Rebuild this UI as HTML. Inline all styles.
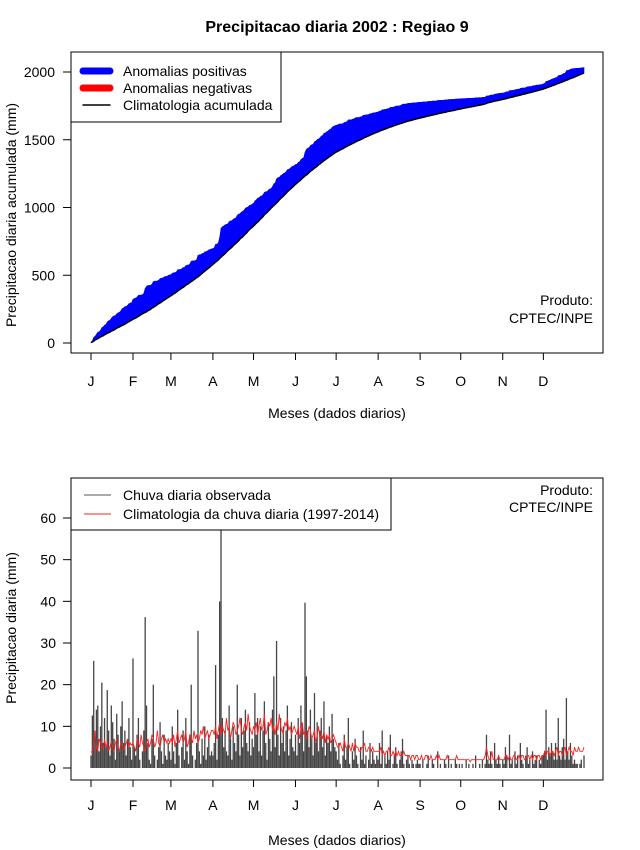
<!DOCTYPE html>
<html><head><meta charset="utf-8"><style>
html,body{margin:0;padding:0;background:#fff;}
svg{display:block;font-family:"Liberation Sans",Arial,sans-serif;}
</style></head><body>
<svg id="c" width="640" height="850" viewBox="0 0 640 850">
<rect width="640" height="850" fill="#fff"/>
<defs><clipPath id="cb"><rect x="71" y="478" width="532" height="302"/></clipPath></defs>
<text x="337" y="32" text-anchor="middle" font-size="16" font-weight="bold">Precipitacao diaria 2002 : Regiao 9</text>
</svg>
<script>
const months = ["J","F","M","A","M","J","J","A","S","O","N","D"];
const monthStartDays = [1,32,60,91,121,152,182,213,244,274,305,335];
const cumTicks = [0,500,1000,1500,2000];
const dailyTicks = [0,10,20,30,40,50,60];
const observedDaily = [
3,12.6,25.7,8,14,15,4,10,20.5,6,12,5,18.7,9,3,15,11,7,2,13,8,4,10,16,6,9,3,7,12,5,2,
26.3,5,3,8,12,2,0,4,9,36.2,15,6,2,1,7,20,3,0,2,5,11,4,1,8,3,2,6,4,
2,10,4,1,6,14,3,0,5,9,2,12,4,1,8,20,3,0,2,6,32.9,4,1,7,3,10,2,5,8,3,4,
3,6,24.7,2,8,40,68,12,5,9,4,3,15,7,2,10,6,4,20,8,3,12,5,9,14,6,4,11,3,7,
5,18,8,12,4,10,3,9,16,6,2,11,7,4,14,22,5,30.5,8,3,12,6,10,4,9,15,3,7,11,5,4,
8,3,12,6,15,10,4,39.7,22,9,5,14,7,3,18,6,11,4,9,12,5,16,3,8,6,10,4,13,7,5,
4,2,6,1,0,3,8,2,5,12,1,0,4,2,7,3,1,0,5,2,9,1,3,0,2,6,1,4,2,1,3,
2,6,1,9,0,3,1,4,2,8,0,1,3,5,1,0,2,4,7,1,0,2,3,1,0,2,1,0,1,2,1,
1,0,2,0,0,1,3,0,0,2,1,0,0,4,0,1,0,0,2,1,0,3,0,1,0,0,2,1,0,1,
0,1,0,0,2,0,1,0,0,1,0,3,0,0,1,0,2,0,1,8,2,1,4,1,0,6,2,1,3,1,0,
2,1,5,3,0,8,1,2,0,4,1,3,0,6,2,1,0,3,5,1,2,0,4,1,2,3,0,2,1,3,
3,4,14,2,5,3,6,4,2,6,2,12,3,2,5,7,2,16.8,4,2,6,3,1,2,1,1,0,1,2,0,3
];
const climDaily = [
4,3.5,6,9,5,4,7,6,5,4.5,7,5,6,4,5,6.5,5,4,6,7,5,4,6,5.5,4.5,5,6,7,5,6,5.5,
6,5,4,7,6,5,8,6,5,4,6,7,5,6,8,7,5,6,9,6,5,7,8,6,7,6,7,6,
7,6,8,5,7,9,6,7,8,6,7,9,5,6,8,7,6,9,7,8,6,7,9,8,10,7,8,9,7,8,9,
9,8,10,7,9,11,8,10,9,8,12,9,10,7,9,11,10,8,9,10,12,9,8,10,11,9,13,10,9,8,
10,9,11,8,10,12,9,10,13,8,9,11,10,12,9,10,8,11,9,13,10,9,8,11,10,12,9,10,8,9,10,
9,8,10,7,9,11,8,9,7,8,10,9,7,8,9,6,8,10,7,8,7,9,6,8,7,8,6,7,8,7,
6,5,5,6,5,4,7,5,5,6,5,4,6,4,6,5,5,4,4,5,5,6,4,4,5,5,4,5,4,4,4,
4,4,5,3,4,3,4,4,5,3,3,4,3,4,3,4,3,3,3,4,3,3,3,3,2,3,3,2,3,3,2,
2,3,2,2,3,3,2,2,3,2,2,2,3,2,3,2,2,2,2,2,3,2,2,2,2,2,2,3,2,2,
2,2,2,2,2,2,2,1.5,2,2,2,2,2,2,2,2,2,2,3,5,3,2,2,4,2,2,2,2,3,2,2,
2,2,3,3,2,3,2,2,3,3,2,2,3,2,3,3,2,2,3,3,2,3,2,3,3,2,3,3,2,3,
3,4,3,4,4,3,4,4,3,4,5,3,4,4,3,4,5,3,4,5,4,4,3,5,4,4,5,4,4,4,5
];

const NS="http://www.w3.org/2000/svg";
const svgEl=document.getElementById('c');
function mk(tag,attrs,parent){const e=document.createElementNS(NS,tag);for(const k in attrs)e.setAttribute(k,attrs[k]);(parent||svgEl).appendChild(e);return e;}
const xDay=d=>91+(d-1)*(493/364);
const yCum=v=>343-v*0.1355;
const yDay=v=>768-v*(250/60);
const FS='14';

const cumObs=[],cumClim=[];
let so=0,sc=0;
for(let i=0;i<observedDaily.length;i++){so+=observedDaily[i];sc+=climDaily[i];cumObs.push(so);cumClim.push(sc);}

// ---- TOP PANEL ----
const topPanel=mk('g',{});


for(let i=0;i<cumObs.length-1;i++){
  const d=i+1;
  const pts=[[xDay(d),yCum(cumObs[i])],[xDay(d+1),yCum(cumObs[i+1])],[xDay(d+1),yCum(cumClim[i+1])],[xDay(d),yCum(cumClim[i])]];
  const pos=(cumObs[i]+cumObs[i+1])>=(cumClim[i]+cumClim[i+1]);
  const p=mk('polygon',{points:pts.map(q=>q.join(',')).join(' '),fill:pos?'#0000ff':'#ff0000',stroke:pos?'#0000ff':'#ff0000','stroke-width':'0.6'},topPanel);
  
  
}
const climLine=mk('polyline',{points:cumClim.map((v,i)=>xDay(i+1)+','+yCum(v)).join(' '),fill:'none',stroke:'#000','stroke-width':'1.5'},topPanel);


const box1=mk('rect',{x:71,y:52,width:532,height:301,fill:'none',stroke:'#000','stroke-width':'1'});


cumTicks.forEach(t=>{
  const tk=mk('line',{x1:63,x2:71,y1:yCum(t),y2:yCum(t),stroke:'#000'});
  
  
  const tx=mk('text',{x:55,y:yCum(t)+5,'text-anchor':'end','font-size':FS});
  tx.textContent=t;
  
  
});
function xAxis(yb,yl){
  monthStartDays.forEach((d,i)=>{
    const tk=mk('line',{x1:xDay(d),x2:xDay(d),y1:yb,y2:yb+7,stroke:'#000'});
    
    
    const tx=mk('text',{x:xDay(d),y:yl,'text-anchor':'middle','font-size':FS});
    tx.textContent=months[i];
    
    
  });
}
xAxis(353,386);
let t1=mk('text',{x:337,y:418,'text-anchor':'middle','font-size':FS});t1.textContent='Meses (dados diarios)';


let t2=mk('text',{x:0,y:0,'text-anchor':'middle','font-size':FS,transform:'translate(16,215) rotate(-90)'});t2.textContent='Precipitacao diaria acumulada (mm)';


let p1=mk('text',{x:593,y:305,'text-anchor':'end','font-size':FS});p1.textContent='Produto:';


let p2=mk('text',{x:593,y:323,'text-anchor':'end','font-size':FS});p2.textContent='CPTEC/INPE';


const lg1=mk('g',{});


mk('rect',{x:71,y:52,width:210,height:70,fill:'#fff',stroke:'#000'},lg1);
[['Anomalias positivas','#0000ff',7,71],['Anomalias negativas','#ff0000',7,88],['Climatologia acumulada','#000',1.5,105]].forEach(e=>{
  const g=mk('g',{},lg1);
  
  
  mk('line',{x1:83,x2:110,y1:e[3],y2:e[3],stroke:e[1],'stroke-width':e[2],'stroke-linecap':'round'},g);
  const t=mk('text',{x:123,y:e[3]+5,'font-size':FS},g);t.textContent=e[0];
});

// ---- BOTTOM PANEL ----
const bot=mk('g',{});


const bars=mk('g',{'clip-path':'url(#cb)'},bot);
observedDaily.forEach((v,i)=>{
  const b=mk('line',{x1:xDay(i+1),x2:xDay(i+1),y1:yDay(0),y2:yDay(v),stroke:'#444','stroke-width':'1.3'},bars);
  
  
});
const cl=mk('polyline',{points:climDaily.map((v,i)=>xDay(i+1)+','+yDay(v)).join(' '),fill:'none',stroke:'#ff2020','stroke-width':'0.9'},bot);


const box2=mk('rect',{x:71,y:478,width:532,height:302,fill:'none',stroke:'#000'});


dailyTicks.forEach(t=>{
  const tk=mk('line',{x1:63,x2:71,y1:yDay(t),y2:yDay(t),stroke:'#000'});
  
  
  const tx=mk('text',{x:56,y:yDay(t)+5,'text-anchor':'end','font-size':FS});
  tx.textContent=t;
  
  
});
xAxis(780,810);
let t3=mk('text',{x:337,y:845,'text-anchor':'middle','font-size':FS});t3.textContent='Meses (dados diarios)';


let t4=mk('text',{x:0,y:0,'text-anchor':'middle','font-size':FS,transform:'translate(16,628) rotate(-90)'});t4.textContent='Precipitacao diaria (mm)';


let p3=mk('text',{x:593,y:495,'text-anchor':'end','font-size':FS});p3.textContent='Produto:';


let p4=mk('text',{x:593,y:512,'text-anchor':'end','font-size':FS});p4.textContent='CPTEC/INPE';


const lg2=mk('g',{});


mk('rect',{x:71,y:478,width:320,height:52,fill:'#fff',stroke:'#000'},lg2);
[['Chuva diaria observada','#555',495],['Climatologia da chuva diaria (1997-2014)','#ff2020',514]].forEach(e=>{
  const g=mk('g',{},lg2);
  
  
  mk('line',{x1:84,x2:111,y1:e[2],y2:e[2],stroke:e[1],'stroke-width':'1'},g);
  const t=mk('text',{x:123,y:e[2]+5,'font-size':FS},g);t.textContent=e[0];
});
</script>
</body></html>
